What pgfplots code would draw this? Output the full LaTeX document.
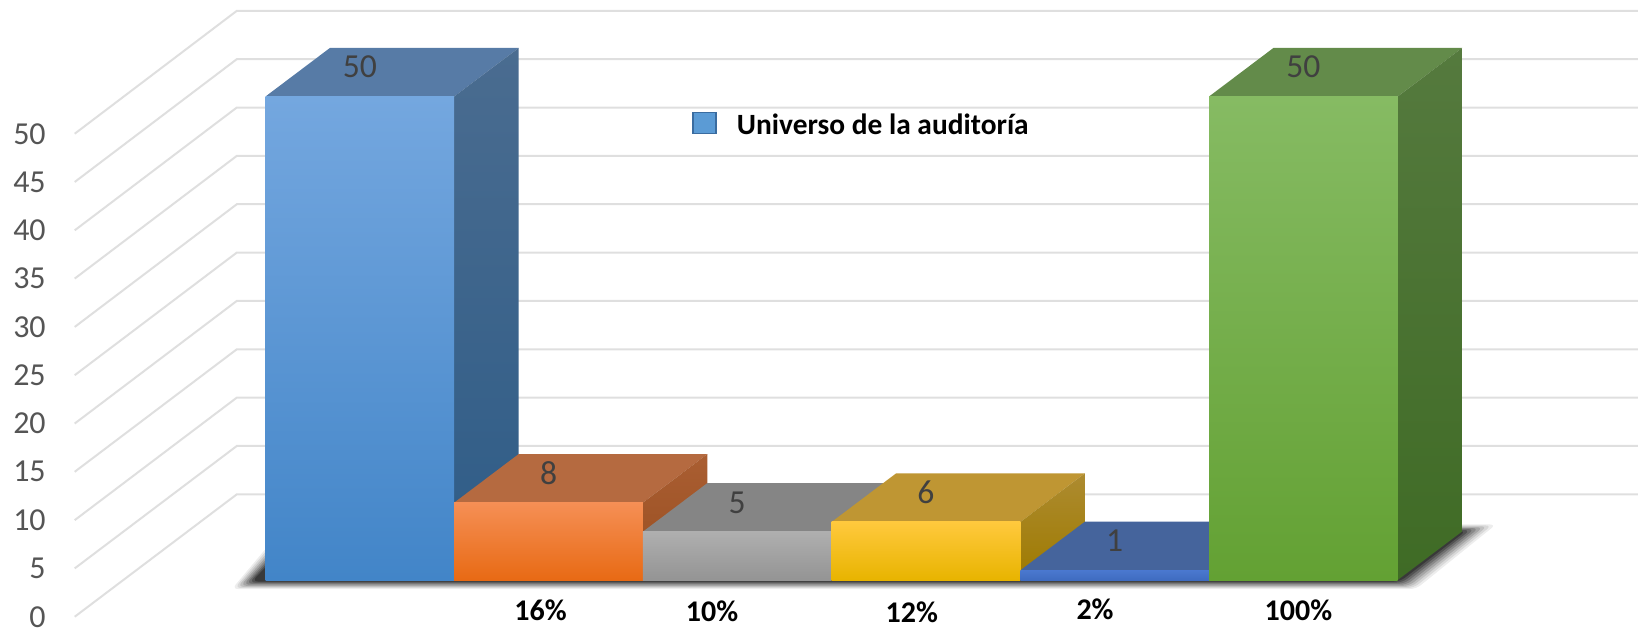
\documentclass[border=0pt]{standalone}
\usepackage{pgfplots}
\usepackage{fontspec}
\setmainfont{Carlito}
\pgfplotsset{compat=1.18}
\definecolor{gridc}{HTML}{DFDFDF}
\definecolor{tickc}{HTML}{555555}
\definecolor{labc}{HTML}{404040}
\begin{document}
\begin{tikzpicture}
\path[use as bounding box] (0,0) rectangle (819pt,314pt);
\begin{axis}[
  at={(37.35pt,0pt)}, anchor=south west,
  scale only axis, width=781.65pt, height=314pt,
  xmin=-1.0111, xmax=7.2734, ymin=-4.964, ymax=59.98,
  clip=false,
  axis line style={draw=none},
  major tick length=0pt,
  xtick=\empty,
  ytick={-3.80,1.20,6.19,11.19,16.18,21.18,26.17,31.17,36.16,41.16,46.15},
  yticklabels={0,5,10,15,20,25,30,35,40,45,50},
  yticklabel style={font=\fontsize{16}{16}\selectfont, text=tickc, anchor=east, xshift=-14.3pt, yshift=0pt, inner sep=0pt},
  legend style={at={(axis cs:2.260,47.0)}, anchor=west, draw=none, fill=none, font=\fontsize{14.7}{16}\selectfont\bfseries, inner sep=0pt, legend cell align=left},
]
% grid
\addplot[color=gridc, line width=1pt, forget plot, unbounded coords=jump] coordinates {
(-1.0111,-3.80)(-0.1521,8.86)(7.2734,8.86)(nan,nan)
(-1.0111,1.20)(-0.1521,13.86)(7.2734,13.86)(nan,nan)
(-1.0111,6.19)(-0.1521,18.86)(7.2734,18.86)(nan,nan)
(-1.0111,11.19)(-0.1521,23.86)(7.2734,23.86)(nan,nan)
(-1.0111,16.18)(-0.1521,28.86)(7.2734,28.86)(nan,nan)
(-1.0111,21.18)(-0.1521,33.86)(7.2734,33.86)(nan,nan)
(-1.0111,26.17)(-0.1521,38.86)(7.2734,38.86)(nan,nan)
(-1.0111,31.17)(-0.1521,43.86)(7.2734,43.86)(nan,nan)
(-1.0111,36.16)(-0.1521,48.86)(7.2734,48.86)(nan,nan)
(-1.0111,41.16)(-0.1521,53.86)(7.2734,53.86)(nan,nan)
(-1.0111,46.15)(-0.1521,58.86)(7.2734,58.86)
};
% shadow
\pgfplotsset{shadowlayer/.style={draw=none, fill=black, fill opacity=#1, forget plot, rounded corners=3pt}}
\addplot[shadowlayer=.07] coordinates {(-.178,-.931)(6.097,-.931)(6.521,5.74)(.109,5.74)} --cycle;
\addplot[shadowlayer=.09] coordinates {(-.163,-.820)(6.085,-.820)(6.498,5.64)(.119,5.64)} --cycle;
\addplot[shadowlayer=.11] coordinates {(-.148,-.709)(6.073,-.709)(6.475,5.55)(.130,5.55)} --cycle;
\addplot[shadowlayer=.14] coordinates {(-.133,-.598)(6.061,-.598)(6.453,5.45)(.141,5.45)} --cycle;
\addplot[shadowlayer=.17] coordinates {(-.117,-.488)(6.048,-.488)(6.430,5.36)(.151,5.36)} --cycle;
\addplot[shadowlayer=.20] coordinates {(-.102,-.377)(6.036,-.377)(6.407,5.26)(.162,5.26)} --cycle;
\addplot[shadowlayer=.25] coordinates {(-.087,-.266)(6.024,-.266)(6.385,5.17)(.172,5.17)} --cycle;
\addplot[shadowlayer=.30] coordinates {(-.072,-.155)(6.012,-.155)(6.362,5.07)(.183,5.07)} --cycle;
% bar 1: 50
\addplot[draw=none, fill={rgb,255:red,87;green,123;blue,166}, forget plot] coordinates {(0,50)(1,50)(1.342,55.03)(.342,55.03)} --cycle;
\addplot[draw=none, top color={rgb,255:red,74;green,108;blue,144}, bottom color={rgb,255:red,46;green,92;blue,135}, forget plot] coordinates {(1,0)(1.342,5.03)(1.342,55.03)(1,50)} --cycle;
\addplot[draw=none, top color={rgb,255:red,116;green,167;blue,223}, middle color={rgb,255:red,88;green,155;blue,221}, bottom color={rgb,255:red,66;green,133;blue,200}, forget plot] coordinates {(0,0)(1,0)(1,50)(0,50)} --cycle;
% bar 2: 8
\addplot[draw=none, fill={rgb,255:red,181;green,106;blue,64}, forget plot] coordinates {(1,8)(2,8)(2.342,13.03)(1.342,13.03)} --cycle;
\addplot[draw=none, top color={rgb,255:red,170;green,94;blue,50}, bottom color={rgb,255:red,152;green,78;blue,32}, forget plot] coordinates {(2,0)(2.342,5.03)(2.342,13.03)(2,8)} --cycle;
\addplot[draw=none, top color={rgb,255:red,245;green,143;blue,85}, middle color={rgb,255:red,249;green,127;blue,46}, bottom color={rgb,255:red,232;green,106;blue,20}, forget plot] coordinates {(1,0)(2,0)(2,8)(1,8)} --cycle;
% bar 3: 5
\addplot[draw=none, fill={rgb,255:red,133;green,133;blue,133}, forget plot] coordinates {(2,5)(3,5)(3.342,10.03)(2.342,10.03)} --cycle;
\addplot[draw=none, fill={rgb,255:red,110;green,110;blue,110}, forget plot] coordinates {(3,0)(3.342,5.03)(3.342,10.03)(3,5)} --cycle;
\addplot[draw=none, top color={rgb,255:red,175;green,175;blue,175}, middle color={rgb,255:red,166;green,166;blue,166}, bottom color={rgb,255:red,148;green,148;blue,148}, forget plot] coordinates {(2,0)(3,0)(3,5)(2,5)} --cycle;
% bar 4: 6
\addplot[draw=none, fill={rgb,255:red,191;green,150;blue,51}, forget plot] coordinates {(3,6)(4,6)(4.342,11.03)(3.342,11.03)} --cycle;
\addplot[draw=none, top color={rgb,255:red,173;green,139;blue,48}, bottom color={rgb,255:red,158;green,122;blue,0}, forget plot] coordinates {(4,0)(4.342,5.03)(4.342,11.03)(4,6)} --cycle;
\addplot[draw=none, top color={rgb,255:red,255;green,201;blue,61}, middle color={rgb,255:red,255;green,196;blue,0}, bottom color={rgb,255:red,232;green,180;blue,0}, forget plot] coordinates {(3,0)(4,0)(4,6)(3,6)} --cycle;
% bar 5: 1
\addplot[draw=none, fill={rgb,255:red,69;green,100;blue,156}, forget plot] coordinates {(4,1)(5,1)(5.342,6.03)(4.342,6.03)} --cycle;
\addplot[draw=none, fill={rgb,255:red,50;green,80;blue,130}, forget plot] coordinates {(5,0)(5.342,5.03)(5.342,6.03)(5,1)} --cycle;
\addplot[draw=none, top color={rgb,255:red,74;green,120;blue,207}, bottom color={rgb,255:red,63;green,108;blue,192}, forget plot] coordinates {(4,0)(5,0)(5,1)(4,1)} --cycle;
% bar 6: 50
\addplot[draw=none, fill={rgb,255:red,99;green,139;blue,74}, forget plot] coordinates {(5,50)(6,50)(6.342,55.03)(5.342,55.03)} --cycle;
\addplot[draw=none, top color={rgb,255:red,85;green,122;blue,62}, bottom color={rgb,255:red,63;green,107;blue,37}, forget plot] coordinates {(6,0)(6.342,5.03)(6.342,55.03)(6,50)} --cycle;
\addplot[draw=none, top color={rgb,255:red,134;green,187;blue,99}, middle color={rgb,255:red,112;green,173;blue,71}, bottom color={rgb,255:red,99;green,161;blue,51}, forget plot] coordinates {(5,0)(6,0)(6,50)(5,50)} --cycle;
% value labels
\addplot[draw=none, forget plot, point meta=explicit symbolic, nodes near coords,
  every node near coord/.append style={anchor=center, inner sep=0pt, text=labc, font=\fontsize{16.8}{17}\selectfont}]
  coordinates {(0.5,53.03)[50] (1.5,11.03)[8] (2.5,8.03)[5] (3.5,9.03)[6] (4.5,4.03)[1] (5.5,53.03)[50]};
% percentage labels
\addplot[draw=none, forget plot, point meta=explicit symbolic, nodes near coords,
  every node near coord/.append style={anchor=center, inner sep=0pt, text=black, font=\fontsize{15}{16}\selectfont\bfseries}]
  coordinates {(1.458,-3.10)[16\%] (2.366,-3.28)[10\%] (3.425,-3.38)[12\%] (4.396,-3.00)[2\%] (5.474,-3.10)[100\%]};
\addlegendimage{legend image code/.code={\draw[draw={rgb,255:red,58;green,108;blue,160}, line width=.8pt, fill={rgb,255:red,91;green,155;blue,213}] (0pt,-4pt) rectangle (11.5pt,6.5pt);}}
\addlegendentry{\hspace{8pt}Universo de la auditoría}
\end{axis}
\end{tikzpicture}
\end{document}
